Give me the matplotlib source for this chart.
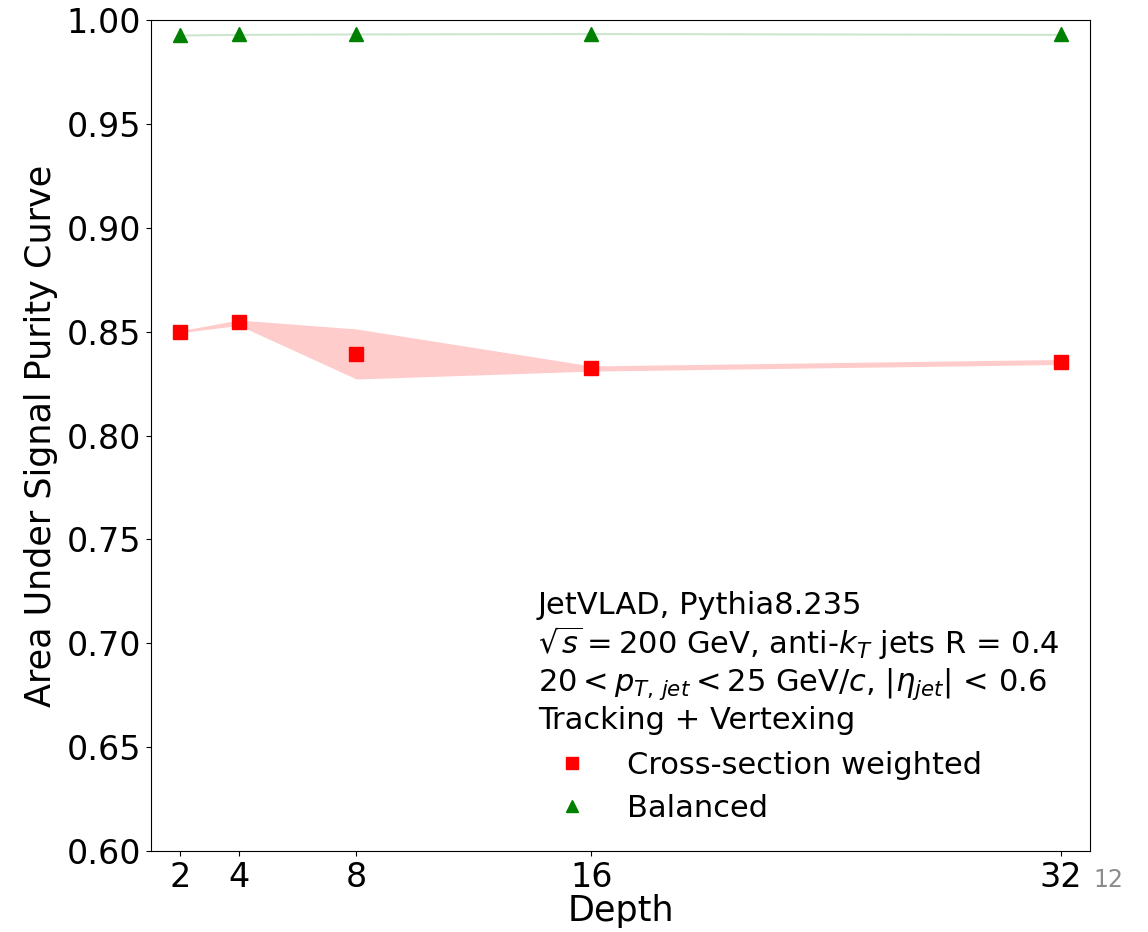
import matplotlib
matplotlib.use("Agg")
import matplotlib.pyplot as plt

# depth values on the x axis
depth = [2, 4, 8, 16, 32]

# cross-section weighted: mean and band edges
xsec_mean = [0.8500, 0.8545, 0.8392, 0.8323, 0.8354]
xsec_low = [0.8495, 0.8530, 0.8272, 0.8310, 0.8342]
xsec_high = [0.8505, 0.8556, 0.8513, 0.8335, 0.8366]

# balanced: mean and band edges
bal_mean = [0.9928, 0.9931, 0.9933, 0.9935, 0.9931]
bal_low = [0.9923, 0.9926, 0.9928, 0.9930, 0.9926]
bal_high = [0.9933, 0.9936, 0.9938, 0.9940, 0.9936]

info_lines = [
    "JetVLAD, Pythia8.235",
    r"$\sqrt{s} = 200$ GeV, anti-$k_{T}$ jets R = 0.4",
    r"$20 < p_{T,\,jet} < 25$ GeV/$c$, $|\eta_{jet}|$ < 0.6",
    "Tracking + Vertexing",
]

fig = plt.figure(figsize=(11.48, 9.32), dpi=100)
ax = fig.add_axes([0.1315, 0.0869, 0.818, 0.8916])

ax.fill_between(depth, xsec_low, xsec_high, color="red", alpha=0.2, linewidth=0)
ax.fill_between(depth, bal_low, bal_high, color="green", alpha=0.2, linewidth=0)
ax.plot(depth, xsec_mean, linestyle="none", marker="s", color="red",
        markersize=10, label="Cross-section weighted")
ax.plot(depth, bal_mean, linestyle="none", marker="^", color="green",
        markersize=10, label="Balanced")

ax.set_xlim(1, 33)
ax.set_ylim(0.60, 1.00)
ax.set_xticks(depth)
ax.set_xticklabels([str(d) for d in depth])
ax.set_yticks([0.60, 0.65, 0.70, 0.75, 0.80, 0.85, 0.90, 0.95, 1.00])
ax.set_yticklabels([f"{v:.2f}" for v in ax.get_yticks()])
ax.tick_params(labelsize=24)
ax.set_xlabel("Depth", fontsize=25.2, labelpad=0.5)
ax.set_ylabel("Area Under Signal Purity Curve", fontsize=25.2, labelpad=6)

ax.text(0.412, 0.3134, "\n".join(info_lines), transform=ax.transAxes,
        fontsize=22, ha="left", va="top", linespacing=1.165)

ax.legend(loc="upper left", bbox_to_anchor=(0.3997, 0.139), frameon=False,
          fontsize=22, markerscale=0.8, handletextpad=0.8, borderpad=0,
          labelspacing=0.45)

fig.text(1108 / 1148, 1 - 880 / 932, "12", fontsize=17, color="#8c8c8c",
         ha="center", va="center")

fig.savefig("out.png", dpi=100)
